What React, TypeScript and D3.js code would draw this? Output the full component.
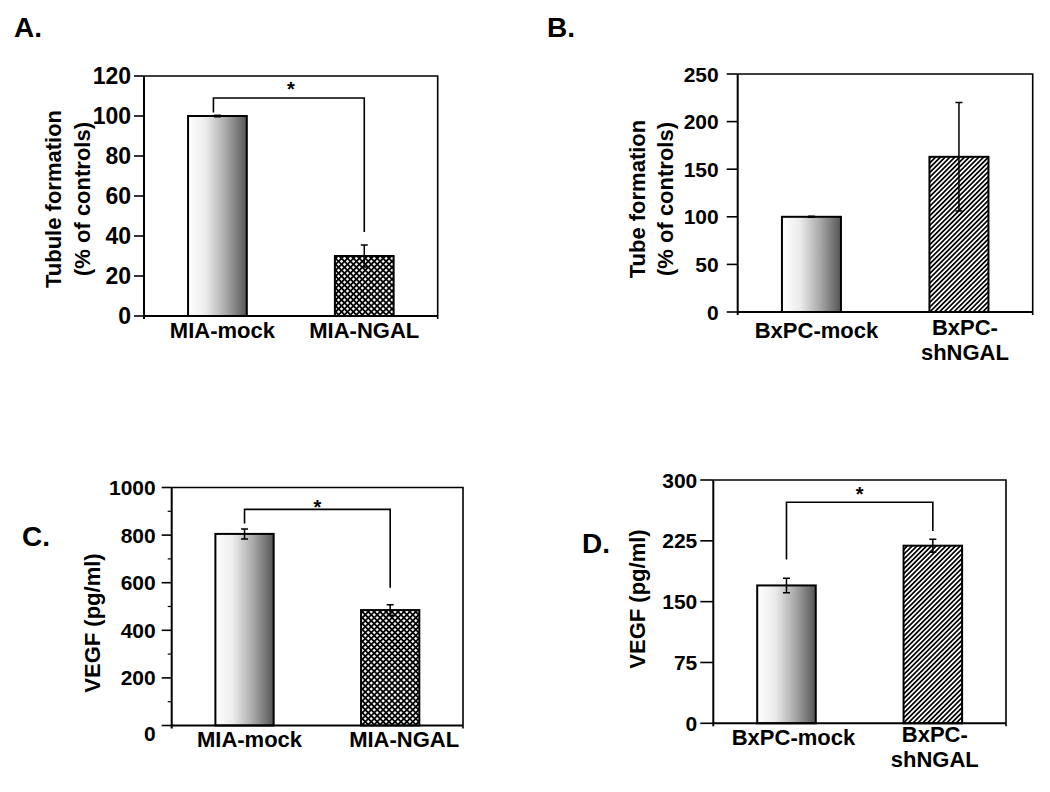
import React from 'react';
import * as d3 from 'd3';

// ---------- data ----------
const panelACategories = ['MIA-mock', 'MIA-NGAL'];
const panelAValues = [100, 30];
const panelAErrors = [0.4, 5.5];
const panelATicks = [0, 20, 40, 60, 80, 100, 120];
const panelABracket = [101.7, 109, 42]; // left end, top, right end
const panelAStar = 115.5;

const panelBCategories = ['BxPC-mock', 'BxPC-shNGAL'];
const panelBValues = [100, 163];
const panelBErrors = [0.6, 57];
const panelBTicks = [0, 50, 100, 150, 200, 250];

const panelCCategories = ['MIA-mock', 'MIA-NGAL'];
const panelCValues = [805, 485];
const panelCErrors = [21, 22];
const panelCTicks = [0, 200, 400, 600, 800, 1000];
const panelCMinorTicks = [100, 300, 500, 700, 900];
const panelCBracket = [849, 908, 579];
const panelCStar = 933;

const panelDCategories = ['BxPC-mock', 'BxPC-shNGAL'];
const panelDValues = [170, 219];
const panelDErrors = [9, 8];
const panelDTicks = [0, 75, 150, 225, 300];
const panelDBracket = [202, 272.5, 237];
const panelDStar = 287.6;

const mockLabelLines = (c: string) => (c === 'BxPC-shNGAL' ? ['BxPC-', 'shNGAL'] : [c]);

const FONT = '"Liberation Sans", Arial, Helvetica, sans-serif';

type PanelCfg = {
  letter: string;
  letterX: number;
  letterY: number;
  left: number;
  right: number;
  top: number;
  bottom: number;
  max: number;
  categories: string[];
  values: number[];
  errors: number[];
  ticks: number[];
  minorTicks?: number[];
  bracket?: number[];
  bracketDx?: number;
  star?: number;
  fills: string[];
  yLabel: string[];
  yLabelX: number[];
  yLabelY: number;
  tickFont: number;
  tickLen: number;
  tickGap: number;
  zeroDy?: number;
  xLabelY: number;
  xLabelDx: number[];
};

function Panel({ cfg }: { cfg: PanelCfg }) {
  const x = d3
    .scaleBand<string>()
    .domain(cfg.categories)
    .range([cfg.left, cfg.right])
    .paddingInner(0.6)
    .paddingOuter(0.3);
  const y = d3.scaleLinear().domain([0, cfg.max]).range([cfg.bottom, cfg.top]);
  const bw = x.bandwidth();
  const cx = (c: string) => (x(c) as number) + bw / 2;
  const capW = 3.5;

  return (
    <g>
      <text x={cfg.letterX} y={cfg.letterY} fontFamily={FONT} fontWeight="bold" fontSize={28}>
        {cfg.letter}
      </text>
      {/* bars */}
      {cfg.categories.map((c, i) => (
        <rect
          key={c}
          x={x(c)}
          y={y(cfg.values[i])}
          width={bw}
          height={y(0) - y(cfg.values[i])}
          fill={cfg.fills[i]}
          stroke="#000"
          strokeWidth={2}
        />
      ))}
      {/* error bars */}
      {cfg.categories.map((c, i) => {
        const v = cfg.values[i];
        const e = cfg.errors[i];
        const xc = cx(c);
        return (
          <path
            key={'e' + c}
            d={`M${xc},${y(v - e)}V${y(v + e)}M${xc - capW},${y(v + e)}H${xc + capW}M${xc - capW},${y(v - e)}H${xc + capW}`}
            stroke="#000"
            strokeWidth={1.5}
            fill="none"
          />
        );
      })}
      {/* frame top/right */}
      <path
        d={`M${cfg.left},${cfg.top}H${cfg.right}V${cfg.bottom + 3}`}
        stroke="#000"
        strokeWidth={1.6}
        fill="none"
      />
      {/* axes */}
      <path
        d={`M${cfg.left},${cfg.top}V${cfg.bottom + 3}M${cfg.left},${cfg.bottom}H${cfg.right}`}
        stroke="#000"
        strokeWidth={2}
        fill="none"
      />
      {/* ticks */}
      {cfg.ticks.map((t) => (
        <g key={'t' + t}>
          <line x1={cfg.left - cfg.tickLen} x2={cfg.left} y1={y(t)} y2={y(t)} stroke="#000" strokeWidth={1.6} />
          <text
            x={cfg.left - cfg.tickLen - cfg.tickGap}
            y={y(t) + (t === 0 && cfg.zeroDy ? cfg.zeroDy : 0)}
            textAnchor="end"
            dominantBaseline="central"
            fontFamily={FONT}
            fontWeight="bold"
            fontSize={cfg.tickFont}
          >
            {t}
          </text>
        </g>
      ))}
      {(cfg.minorTicks || []).map((t) => (
        <line key={'m' + t} x1={cfg.left - 4} x2={cfg.left} y1={y(t)} y2={y(t)} stroke="#000" strokeWidth={1.2} />
      ))}
      {/* x labels */}
      {cfg.categories.map((c, i) =>
        mockLabelLines(c).map((ln, j) => (
          <text
            key={'x' + c + j}
            x={cx(c) + cfg.xLabelDx[i]}
            y={cfg.xLabelY + j * 25 - (mockLabelLines(c).length > 1 ? 3 : 0)}
            textAnchor="middle"
            fontFamily={FONT}
            fontWeight="bold"
            fontSize={22}
          >
            {ln}
          </text>
        ))
      )}
      {/* y label */}
      {cfg.yLabel.map((ln, j) => (
        <text
          key={'y' + j}
          transform={`translate(${cfg.yLabelX[j]},${cfg.yLabelY}) rotate(-90)`}
          textAnchor="middle"
          dominantBaseline="central"
          fontFamily={FONT}
          fontWeight="bold"
          fontSize={22}
        >
          {ln}
        </text>
      ))}
      {/* significance bracket */}
      {cfg.bracket && (
        <g>
          <path
            d={`M${cx(cfg.categories[0]) + (cfg.bracketDx || 0)},${y(cfg.bracket[0])}V${y(cfg.bracket[1])}H${cx(
              cfg.categories[1]
            )}V${y(cfg.bracket[2])}`}
            stroke="#000"
            strokeWidth={1.6}
            fill="none"
          />
          <text
            x={(cx(cfg.categories[0]) + cx(cfg.categories[1])) / 2}
            y={y(cfg.star as number) + 11}
            textAnchor="middle"
            fontFamily={FONT}
            fontWeight="bold"
            fontSize={20}
          >
            *
          </text>
        </g>
      )}
    </g>
  );
}

export default function App() {
  const panels: PanelCfg[] = [
    {
      letter: 'A.',
      letterX: 14,
      letterY: 37,
      left: 144,
      right: 437.7,
      top: 76,
      bottom: 316,
      max: 120,
      categories: panelACategories,
      values: panelAValues,
      errors: panelAErrors,
      ticks: panelATicks,
      bracket: panelABracket,
      bracketDx: -4,
      star: panelAStar,
      fills: ['url(#mockGrad)', 'url(#cross)'],
      yLabel: ['Tubule formation', '(% of controls)'],
      yLabelX: [53, 82],
      yLabelY: 199,
      tickFont: 23,
      tickLen: 10,
      tickGap: 3,
      xLabelY: 338,
      xLabelDx: [5, 0],
    },
    {
      letter: 'B.',
      letterX: 547,
      letterY: 37,
      left: 737.7,
      right: 1032.7,
      top: 74,
      bottom: 312,
      max: 250,
      categories: panelBCategories,
      values: panelBValues,
      errors: panelBErrors,
      ticks: panelBTicks,
      fills: ['url(#mockGrad)', 'url(#hatch)'],
      yLabel: ['Tube formation', '(% of controls)'],
      yLabelX: [637, 665],
      yLabelY: 199,
      tickFont: 21,
      tickLen: 11,
      tickGap: 8,
      xLabelY: 338,
      xLabelDx: [5, 6],
    },
    {
      letter: 'C.',
      letterX: 22,
      letterY: 546,
      left: 171.7,
      right: 463,
      top: 487.5,
      bottom: 725.5,
      max: 1000,
      categories: panelCCategories,
      values: panelCValues,
      errors: panelCErrors,
      ticks: panelCTicks,
      minorTicks: panelCMinorTicks,
      bracket: panelCBracket,
      star: panelCStar,
      fills: ['url(#mockGrad)', 'url(#cross)'],
      yLabel: ['VEGF (pg/ml)'],
      yLabelX: [92],
      yLabelY: 623,
      tickFont: 21,
      tickLen: 10,
      tickGap: 6,
      zeroDy: 8,
      xLabelY: 747,
      xLabelDx: [5, 14],
    },
    {
      letter: 'D.',
      letterX: 582,
      letterY: 553,
      left: 713.3,
      right: 1006,
      top: 480,
      bottom: 723.3,
      max: 300,
      categories: panelDCategories,
      values: panelDValues,
      errors: panelDErrors,
      ticks: panelDTicks,
      bracket: panelDBracket,
      star: panelDStar,
      fills: ['url(#mockGrad)', 'url(#hatch)'],
      yLabel: ['VEGF (pg/ml)'],
      yLabelX: [637],
      yLabelY: 599,
      tickFont: 21,
      tickLen: 13,
      tickGap: 3,
      xLabelY: 745,
      xLabelDx: [7, 2],
    },
  ];

  return (
    <svg
      width={1050}
      height={792}
      style={{ position: 'absolute', left: 0, top: 0, background: '#fff' }}
      xmlns="http://www.w3.org/2000/svg"
    >
      <defs>
        <linearGradient id="mockGrad" x1="0" x2="1" y1="0" y2="0">
          <stop offset="0" stopColor="#ffffff" />
          <stop offset="0.3" stopColor="#ececec" />
          <stop offset="0.65" stopColor="#a8a8a8" />
          <stop offset="1" stopColor="#555555" />
        </linearGradient>
        <pattern id="cross" width={4.2} height={4.2} patternUnits="userSpaceOnUse" patternTransform="rotate(45)">
          <rect width={4.2} height={4.2} fill="#000" />
          <rect x={0.9} y={0.9} width={2.4} height={2.4} fill="#fff" />
        </pattern>
        <pattern id="hatch" width={3.4} height={3.4} patternUnits="userSpaceOnUse" patternTransform="rotate(45)">
          <rect width={3.4} height={3.4} fill="#fff" />
          <rect width={1.7} height={3.4} fill="#000" />
        </pattern>
      </defs>
      <rect width={1050} height={792} fill="#fff" />
      {panels.map((p) => (
        <Panel key={p.letter} cfg={p} />
      ))}
    </svg>
  );
}
